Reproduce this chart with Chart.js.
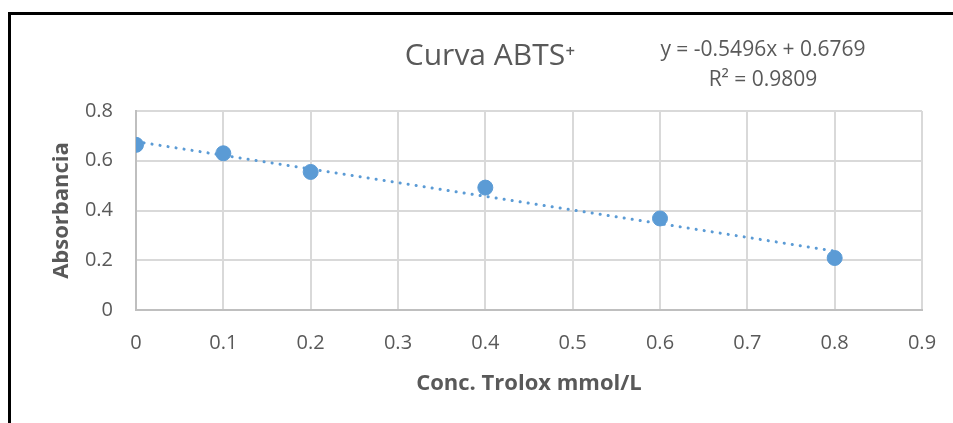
<!DOCTYPE html>
<html>
<head>
<meta charset="utf-8">
<script src="https://cdn.jsdelivr.net/npm/chart.js@4"></script>
<style>
    body{ margin:0; overflow:hidden; background:#fff; }
    #frame{ position:absolute; left:8px; top:12px; width:2000px; height:2000px;
        border-left:3px solid #000; border-top:3px solid #000; pointer-events:none; }
    #mychart{ position:absolute; left:0; top:0; }
</style>
</head>
<body>
<canvas id="mychart" width="953" height="423"></canvas>
<div id="frame"></div>
<script>
// values
let concTrolox = [0, 0.1, 0.2, 0.4, 0.6, 0.8]
let absorbancia = [0.664, 0.630, 0.555, 0.492, 0.368, 0.209]
// dotted trendline ends, as drawn
let trendX = [0, 0.8]
let trendY = [0.677, 0.237]
let xTicks = [0, 0.1, 0.2, 0.3, 0.4, 0.5, 0.6, 0.7, 0.8, 0.9]
let yTicks = [0, 0.2, 0.4, 0.6, 0.8]
let chartTitle = 'Curva ABTS\u207A'
let equationLines = ['y = -0.5496x + 0.6769', 'R\u00B2 = 0.9809']

const textColor = '#595959'
const blue = '#5B9BD5'
const fontName = '"Open Sans"'

// title and trendline label
const labelsPlugin = {
    id: 'labels',
    afterDraw(chart){
        const ctx = chart.ctx
        ctx.save()
        ctx.fillStyle = textColor
        ctx.textAlign = 'center'
        ctx.textBaseline = 'middle'
        ctx.font = '30px ' + fontName
        ctx.fillText(chartTitle, 490, 56)
        ctx.font = '21px ' + fontName
        ctx.fillText(equationLines[0], 763, 50)
        ctx.fillText(equationLines[1], 763, 80)
        ctx.restore()
    }
}

function drawchart(){
    const canvas = document.getElementById('mychart')
    new Chart(canvas, {
        type: 'scatter',
        data: {
            datasets: [{
                label: 'Absorbancia',
                data: concTrolox.map((x, i) => ({x: x, y: absorbancia[i]})),
                backgroundColor: blue,
                borderColor: blue,
                pointRadius: 7.5,
                pointHoverRadius: 7.5,
                order: 0
            }, {
                type: 'line',
                label: 'Lineal',
                data: trendX.map((x, i) => ({x: x, y: trendY[i]})),
                borderColor: blue,
                borderWidth: 3,
                borderDash: [0.1, 8],
                borderCapStyle: 'round',
                pointRadius: 0,
                fill: false,
                order: 1
            }]
        },
        options: {
            responsive: false,
            animation: false,
            layout: { padding: { left: 0, right: 31, top: 111, bottom: 0 } },
            plugins: {
                legend: { display: false },
                tooltip: { enabled: false }
            },
            scales: {
                x: {
                    type: 'linear',
                    min: xTicks[0],
                    max: xTicks[xTicks.length - 1],
                    afterBuildTicks: s => { s.ticks = xTicks.map(v => ({value: v})) },
                    afterFit: s => {
                        s.height = 113
                        s.paddingLeft = 0
                        s.paddingRight = 0
                    },
                    grid: { color: '#d9d9d9', lineWidth: 2, drawTicks: false },
                    border: { color: '#bfbfbf', width: 2 },
                    ticks: { color: textColor, font: { family: fontName, size: 20 }, padding: 21 },
                    title: {
                        display: true,
                        text: 'Conc. Trolox mmol/L',
                        color: textColor,
                        font: { family: fontName, size: 22, weight: 'bold' },
                        padding: { top: 0, bottom: 26 }
                    }
                },
                y: {
                    min: yTicks[0],
                    max: yTicks[yTicks.length - 1],
                    afterBuildTicks: s => { s.ticks = yTicks.map(v => ({value: v})) },
                    afterFit: s => { s.width = 136 },
                    grid: { color: '#d9d9d9', lineWidth: 2, drawTicks: false },
                    border: { color: '#bfbfbf', width: 2 },
                    ticks: { color: textColor, font: { family: fontName, size: 20 }, padding: 23 },
                    title: {
                        display: true,
                        text: 'Absorbancia',
                        color: textColor,
                        font: { family: fontName, size: 22, weight: 'bold' },
                        padding: { top: 49, bottom: 0 }
                    }
                }
            }
        },
        plugins: [labelsPlugin]
    })
}
drawchart()
</script>
</body>
</html>
